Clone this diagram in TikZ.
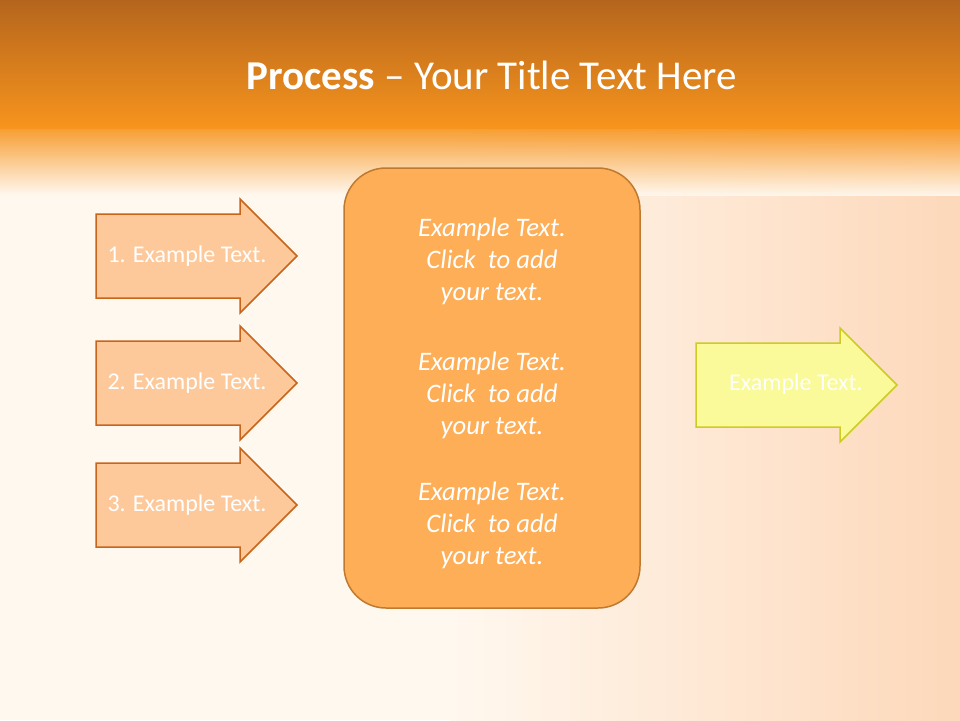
\documentclass[tikz,border=0pt]{standalone}
\usepackage{fontspec}
\setmainfont{Carlito}
\definecolor{hdrA}{HTML}{B5651D}
\definecolor{hdrB}{HTML}{F7941D}
\definecolor{cream}{HTML}{FFF8EF}
\definecolor{peach}{HTML}{FDD8BA}
\definecolor{arrfill}{HTML}{FDC99A}
\definecolor{arrline}{HTML}{C8651B}
\definecolor{boxfill}{HTML}{FDAE56}
\definecolor{boxline}{HTML}{C07A30}
\definecolor{yfill}{HTML}{FAFA9A}
\definecolor{yline}{HTML}{CCCC22}
\tikzset{
  procarrow/.style={draw=arrline, fill=arrfill, line width=1.5pt},
  outarrow/.style={draw=yline, fill=yfill, line width=1.5pt},
  arrtext/.style={text=white, font=\fontsize{24}{28}\selectfont},
  midtext/.style={text=white, align=center, font=\fontsize{26.7}{32}\selectfont\itshape}
}
\newcommand{\arrowshape}[3]{% style, x-left, y-center
  \draw[#1] (#2,#3-42) -- (#2+144,#3-42) -- (#2+144,#3-57) -- (#2+201,#3) -- (#2+144,#3+57) -- (#2+144,#3+42) -- (#2,#3+42) -- cycle;}
\begin{document}
\begin{tikzpicture}[x=1pt,y=-1pt]
\useasboundingbox (0,0) rectangle (960,720);
\fill[cream] (0,0) rectangle (960,720);
\shade[left color=cream, right color=peach] (450,128) rectangle (960,720);
\shade[top color=hdrA, bottom color=hdrB] (0,0) rectangle (960,128);
\shade[top color=hdrB, bottom color=cream, opacity=0.9] (0,128) rectangle (960,195);
\node[text=white, font=\fontsize{41}{46}\selectfont] (title) at (492,75) {\textbf{Process} – Your Title Text Here};
\arrowshape{procarrow}{96}{256}
\arrowshape{procarrow}{96}{383}
\arrowshape{procarrow}{96}{505}
\node[arrtext] (a1) at (187,256) {1. Example Text.};
\node[arrtext] (a2) at (187,383) {2. Example Text.};
\node[arrtext] (a3) at (187,505) {3. Example Text.};
\draw[boxline, fill=boxfill, line width=1.5pt, rounded corners=42pt] (344,168) rectangle (640,608);
\node[midtext] (t1) at (492,261) {Example Text.\\Click~ to add\\your text.};
\node[midtext] (t2) at (492,395) {Example Text.\\Click~ to add\\your text.};
\node[midtext] (t3) at (492,525) {Example Text.\\Click~ to add\\your text.};
\arrowshape{outarrow}{696}{385}
\node[arrtext] (out) at (796,384) {Example Text.};
\end{tikzpicture}
\end{document}
